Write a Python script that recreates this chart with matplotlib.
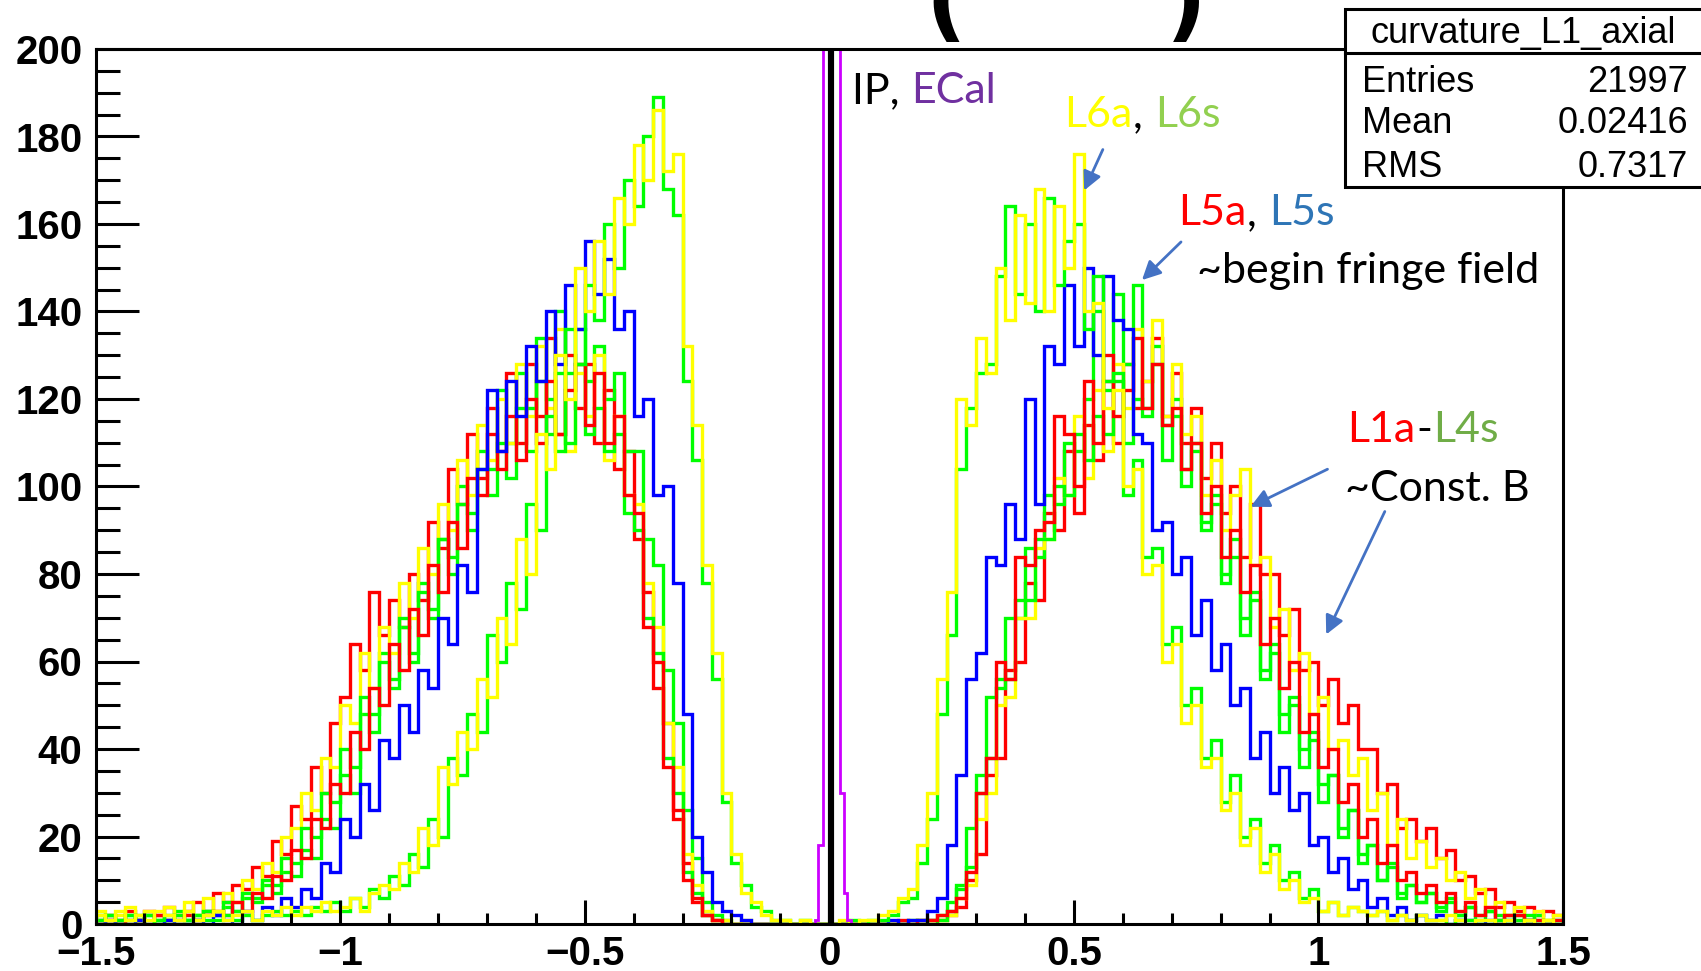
import numpy as np
import matplotlib
matplotlib.use("Agg")
import matplotlib.pyplot as plt
from matplotlib.patches import Rectangle, FancyArrowPatch
from matplotlib.ticker import MultipleLocator

W, H = 1701, 971

# 0.02 wide bins, negative half (-1.5..0) and positive half (0..1.5)
EDGES = np.linspace(-1.5, 1.5, 151)

# ---- L1a-L4s (broad, ~const B) ----
broad_red_neg = [1, 2, 1, 3, 1, 3, 2, 4, 2, 3,
                 5, 3, 7, 5, 9, 8, 13, 11, 19, 16,
                 27, 24, 36, 30, 46, 52, 64, 58, 76, 66,
                 74, 68, 80, 74, 92, 86, 104, 96, 112, 102,
                 118, 108, 126, 110, 128, 116, 134, 112, 130, 118,
                 128, 110, 122, 104, 108, 88, 76, 54, 46, 24,
                 14, 5, 2, 1, 0, 0, 0, 0, 0, 0, 0, 0, 0, 0, 0]
broad_red_pos = [0, 0, 0, 0, 0, 0, 0, 0, 0, 0,
                 1, 1, 2, 4, 10, 16, 34, 38, 58, 60,
                 78, 74, 94, 90, 108, 94, 114, 106, 124, 110,
                 128, 118, 124, 134, 116, 126, 110, 118, 102, 110,
                 94, 100, 84, 96, 80, 80, 66, 72, 58, 60,
                 50, 56, 46, 50, 40, 40, 30, 32, 22, 24,
                 19, 22, 15, 17, 10, 11, 7, 8, 4, 5, 3, 4, 2, 3, 2]

broad_yellow_neg = [3, 1, 2, 4, 1, 3, 1, 4, 2, 5,
                    2, 6, 3, 7, 5, 10, 8, 14, 12, 20,
                    22, 30, 26, 38, 36, 50, 46, 62, 54, 68,
                    62, 78, 70, 86, 80, 96, 90, 106, 98, 114,
                    106, 120, 110, 128, 116, 132, 118, 136, 108, 126,
                    116, 130, 106, 116, 98, 96, 78, 68, 46, 36,
                    16, 9, 3, 1, 1, 0, 1, 0, 0, 0, 0, 0, 0, 0, 0]
broad_yellow_pos = [0, 0, 0, 0, 0, 0, 0, 0, 0, 1,
                    0, 1, 2, 6, 9, 24, 30, 50, 52, 70,
                    70, 86, 88, 102, 98, 116, 102, 122, 108, 128,
                    118, 136, 124, 138, 116, 128, 112, 116, 98, 106,
                    90, 98, 104, 82, 84, 68, 72, 58, 62, 48,
                    52, 40, 42, 34, 38, 26, 30, 18, 24, 15,
                    19, 13, 15, 10, 12, 6, 8, 4, 5, 2, 4, 1, 3, 1, 2]

broad_green_neg = [1, 2, 0, 2, 1, 2, 0, 1, 3, 1,
                   2, 3, 2, 4, 3, 6, 5, 9, 7, 12,
                   11, 17, 15, 24, 22, 34, 30, 48, 44, 62,
                   56, 68, 60, 78, 72, 88, 84, 100, 94, 108,
                   104, 122, 110, 126, 118, 134, 120, 140, 126, 136,
                   124, 132, 120, 126, 108, 108, 88, 82, 58, 46,
                   26, 15, 5, 2, 1, 0, 0, 0, 0, 0, 0, 0, 0, 0, 0]
broad_green_pos = [0, 0, 0, 0, 0, 0, 0, 0, 1, 0,
                   1, 2, 5, 9, 22, 34, 52, 54, 70, 70,
                   86, 84, 98, 96, 110, 108, 120, 140, 122, 144,
                   128, 146, 118, 132, 114, 120, 104, 108, 92, 96,
                   80, 84, 70, 74, 58, 62, 48, 52, 40, 44,
                   32, 34, 22, 26, 16, 18, 10, 13, 7, 9,
                   5, 7, 4, 6, 2, 4, 1, 3, 2, 1, 2, 1, 2, 0, 1]

broad_green2_neg = [2, 0, 1, 2, 1, 2, 1, 1, 2, 1,
                    1, 3, 2, 5, 3, 7, 6, 10, 9, 15,
                    14, 22, 20, 30, 28, 40, 36, 52, 48, 60,
                    54, 70, 62, 76, 70, 88, 80, 96, 90, 104,
                    98, 110, 102, 118, 108, 124, 112, 126, 110, 128,
                    112, 118, 108, 112, 94, 90, 70, 62, 38, 30,
                    12, 7, 2, 1, 0, 0, 0, 0, 0, 0, 0, 0, 0, 0, 0]
broad_green2_pos = [0, 0, 0, 0, 0, 0, 0, 0, 0, 1,
                    0, 1, 3, 8, 13, 30, 38, 56, 56, 74,
                    74, 88, 88, 100, 98, 112, 106, 116, 112, 124,
                    110, 120, 116, 128, 106, 116, 100, 110, 90, 98,
                    78, 88, 66, 76, 56, 64, 44, 50, 36, 42,
                    28, 34, 20, 26, 14, 18, 10, 14, 6, 9,
                    5, 7, 3, 5, 2, 4, 2, 3, 1, 2, 1, 2, 1, 1, 1]

# ---- L5a / L5s (begin fringe field) ----
l5a_neg = [0, 1, 0, 1, 1, 0, 2, 1, 1, 2,
           1, 2, 3, 2, 5, 3, 7, 6, 11, 10,
           17, 15, 24, 22, 32, 30, 44, 40, 54, 50,
           64, 58, 72, 66, 82, 76, 92, 86, 102, 98,
           112, 104, 116, 106, 120, 110, 124, 112, 122, 128,
           114, 126, 110, 116, 98, 94, 68, 60, 36, 26,
           10, 6, 2, 1, 0, 0, 0, 0, 0, 0, 0, 0, 0, 0, 0]
l5a_pos = [0, 0, 0, 0, 0, 0, 0, 1, 0, 1,
           1, 2, 3, 6, 12, 30, 38, 60, 56, 84,
           82, 90, 92, 116, 112, 100, 124, 110, 130, 116,
           122, 134, 118, 128, 114, 118, 104, 110, 94, 100,
           84, 90, 76, 82, 64, 70, 54, 60, 44, 48,
           36, 40, 28, 32, 20, 24, 14, 18, 10, 12,
           7, 9, 5, 7, 3, 5, 2, 4, 1, 2, 2, 1, 1, 0, 1]

l5s_neg = [0, 1, 0, 0, 1, 0, 0, 1, 0, 0,
           1, 0, 2, 1, 0, 3, 1, 4, 2, 6,
           4, 8, 6, 14, 12, 24, 20, 32, 26, 42,
           38, 50, 44, 58, 54, 70, 64, 82, 76, 104,
           122, 108, 124, 116, 132, 124, 140, 128, 146, 136,
           156, 144, 152, 136, 140, 116, 120, 98, 100, 78,
           48, 20, 12, 5, 3, 2, 1, 0, 0, 0, 0, 0, 0, 0, 0]
l5s_pos = [0, 0, 0, 0, 0, 0, 1, 0, 1, 1,
           3, 6, 18, 34, 56, 62, 84, 82, 96, 88,
           120, 96, 132, 128, 146, 132, 150, 130, 148, 138,
           136, 112, 110, 90, 92, 80, 84, 66, 74, 58,
           64, 50, 54, 38, 44, 30, 36, 26, 30, 18,
           20, 12, 15, 8, 10, 4, 6, 2, 4, 1,
           2, 1, 2, 0, 1, 1, 0, 1, 0, 1, 0, 1, 0, 0, 0]

# ---- L6a / L6s ----
l6a_neg = [2, 1, 3, 1, 2, 1, 3, 2, 1, 3,
           1, 2, 3, 1, 2, 3, 1, 3, 2, 4,
           2, 4, 3, 5, 3, 4, 6, 3, 7, 9,
           8, 14, 12, 22, 18, 36, 32, 44, 40, 56,
           52, 70, 64, 88, 80, 112, 104, 130, 120, 150,
           140, 156, 144, 166, 160, 178, 170, 186, 172, 176,
           132, 114, 82, 62, 30, 16, 7, 5, 2, 1, 1, 0, 1, 0, 0]
l6a_pos = [0, 1, 0, 1, 1, 2, 3, 6, 8, 18,
           30, 56, 76, 120, 114, 134, 126, 150, 138, 162,
           142, 168, 140, 164, 150, 176, 140, 142, 118, 122,
           100, 104, 80, 82, 60, 64, 46, 50, 36, 38,
           26, 30, 18, 22, 12, 16, 8, 10, 5, 6,
           3, 5, 2, 4, 3, 2, 3, 1, 2, 1,
           2, 1, 1, 2, 1, 0, 1, 1, 0, 1, 0, 1, 0, 1, 0]

l6s_neg = [1, 2, 1, 1, 2, 0, 1, 2, 1, 1,
           2, 1, 1, 2, 1, 2, 1, 2, 3, 2,
           3, 2, 4, 3, 5, 3, 6, 4, 8, 6,
           11, 9, 16, 13, 24, 20, 38, 34, 48, 44,
           66, 60, 78, 72, 96, 90, 116, 108, 136, 128,
           146, 138, 160, 150, 170, 164, 180, 189, 168, 162,
           124, 106, 78, 56, 28, 14, 9, 4, 3, 1, 1, 0, 1, 0, 0]
l6s_pos = [0, 0, 1, 0, 1, 1, 2, 5, 6, 14,
           24, 48, 66, 104, 118, 126, 128, 148, 164, 144,
           160, 140, 166, 146, 156, 160, 136, 148, 124, 126,
           98, 106, 84, 86, 64, 68, 50, 54, 38, 42,
           28, 34, 20, 24, 14, 18, 10, 12, 6, 8,
           3, 5, 2, 4, 3, 2, 3, 1, 2, 1,
           2, 1, 1, 0, 1, 1, 0, 0, 1, 0, 0, 1, 0, 0, 0]

# IP (black) and ECal (magenta) spikes at zero, finer bins
ip_edges = [0.001, 0.006]
ip_vals = [5000]
ecal_edges = [-0.03, -0.023, -0.0135, 0.0216, 0.030, 0.037, 0.045]
ecal_vals = [1, 18, 5000, 30, 7, 1]

SERIES = [
    (broad_red_neg, broad_red_pos, "#ff0000"),
    (broad_green_neg, broad_green_pos, "#00ff00"),
    (broad_yellow_neg, broad_yellow_pos, "#ffff00"),
    (broad_green2_neg, broad_green2_pos, "#00ff00"),
    (l5a_neg, l5a_pos, "#ff0000"),
    (l5s_neg, l5s_pos, "#0000ff"),
    (l6s_neg, l6s_pos, "#00ff00"),
    (l6a_neg, l6a_pos, "#ffff00"),
]


def fx(px):
    return px / W


def fy(py):
    return 1 - py / H


fig = plt.figure(figsize=(W / 100, H / 100), dpi=100)
ax = fig.add_axes([fx(95.5), fy(924), (1563 - 95.5) / W, (924 - 49) / H])

for neg, pos, col in SERIES:
    ax.stairs(np.array(neg + pos), EDGES, color=col, lw=2.4)
ax.stairs(ip_vals, ip_edges, color="black", lw=3.0)
ax.stairs(ecal_vals, ecal_edges, color="#cc00ff", lw=2.0)

ax.set_xlim(-1.5, 1.5)
ax.set_ylim(0, 200)
for s in ax.spines.values():
    s.set_linewidth(2.2)

ax.xaxis.set_minor_locator(MultipleLocator(0.1))
ax.yaxis.set_minor_locator(MultipleLocator(5))
ax.set_xticks([-1.5, -1, -0.5, 0, 0.5, 1, 1.5],
              ["\u22121.5", "\u22121", "\u22120.5", "0", "0.5", "1", "1.5"],
              fontsize=29, fontweight="bold", family="Liberation Sans")
ax.set_yticks(range(0, 201, 20), [str(v) for v in range(0, 201, 20)],
              fontsize=29, fontweight="bold", family="Liberation Sans")
ax.tick_params(axis="y", which="major", direction="in", length=31, width=2.2, pad=9.5)
ax.tick_params(axis="y", which="minor", direction="in", length=17, width=2.2)
ax.tick_params(axis="x", which="major", direction="in", length=17, width=2.2, pad=8)
ax.tick_params(axis="x", which="minor", direction="in", length=8, width=2.2)

# stats box (ROOT style), runs past the right edge
fig.add_artist(Rectangle((fx(1345), fy(187)), (1730 - 1345) / W, (187 - 9) / H,
                         transform=fig.transFigure, facecolor="white",
                         edgecolor="black", lw=2.2, zorder=10))
fig.add_artist(plt.Line2D([fx(1345), fx(1730)], [fy(53), fy(53)],
                          transform=fig.transFigure, color="black", lw=2.2, zorder=11))
sfont = dict(family="Liberation Sans", fontsize=26, zorder=12, va="baseline")
fig.text(fx(1523), fy(43), "curvature_L1_axial", ha="center", **sfont)
for row, (k, v) in enumerate([("Entries", "21997"), ("Mean", "0.02416"), ("RMS", "0.7317")]):
    yb = [92, 133, 177][row]
    fig.text(fx(1362), fy(yb), k, ha="left", **sfont)
    fig.text(fx(1688), fy(yb), v, ha="right", **sfont)

# slide annotations: multi-coloured labels laid out piece by piece
afont = dict(family="Lato", fontsize=31, va="baseline")
labels = [
    (852, 103, [("IP, ", "black"), ("ECal", "#7030a0")]),
    (1064, 127, [("L6a", "#ffff00"), (", ", "black"), ("L6s", "#92d050")]),
    (1178, 225, [("L5a", "#ff0000"), (", ", "black"), ("L5s", "#2e75b6")]),
    (1197, 283, [("~begin fringe field", "black")]),
    (1347, 442, [("L1a", "#ff0000"), ("-", "black"), ("L4s", "#70ad47")]),
    (1345, 501, [("~Const. B", "black")]),
]
renderer = fig.canvas.get_renderer()
for x, y, parts in labels:
    cur = x
    for s, c in parts:
        t = fig.text(fx(cur), fy(y), s, color=c, ha="left", **afont)
        cur = t.get_window_extent(renderer).x1 + 1

arrows = [((1104, 147), (1083, 193)), ((1183, 240), (1140, 282)),
          ((1330, 468), (1248, 508)), ((1386, 509), (1325, 637))]
for (x0, y0), (x1, y1) in arrows:
    fig.add_artist(FancyArrowPatch((fx(x0), fy(y0)), (fx(x1), fy(y1)),
                                   transform=fig.transFigure, arrowstyle="-|>",
                                   mutation_scale=28, color="#4472c4", lw=2.0, zorder=9))

# cut-off slide title above the frame
fig.text(fx(946), fy(30), "(", fontsize=64, fontweight="bold", ha="center", va="baseline")
fig.text(fx(1186), fy(30), ")", fontsize=64, fontweight="bold", ha="center", va="baseline")

fig.savefig("out.png", dpi=100)
